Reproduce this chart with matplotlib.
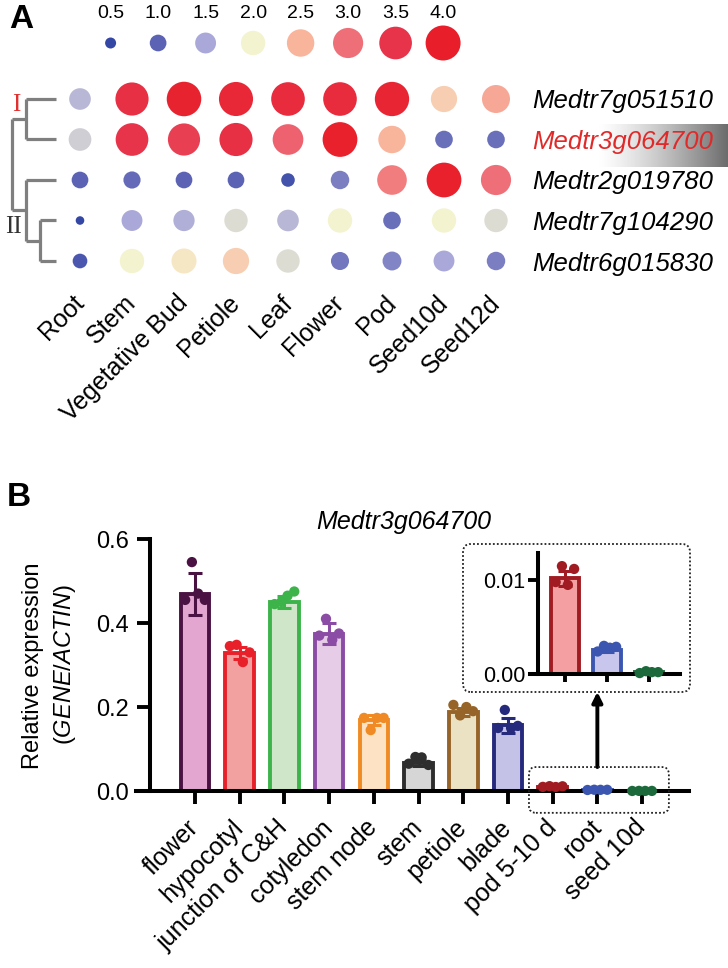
import numpy as np
import matplotlib
matplotlib.use('Agg')
import matplotlib.pyplot as plt
from matplotlib.colors import LinearSegmentedColormap
from matplotlib.patches import FancyBboxPatch
from matplotlib.transforms import IdentityTransform

plt.rcParams['font.family'] = ['Liberation Sans', 'DejaVu Sans']
plt.rcParams['mathtext.fontset'] = 'custom'
plt.rcParams['mathtext.it'] = 'Liberation Sans:italic'
plt.rcParams['mathtext.rm'] = 'Liberation Sans'

# ---------------- Panel A data ----------------
tissues_a = ['Root', 'Stem', 'Vegetative Bud', 'Petiole', 'Leaf', 'Flower', 'Pod', 'Seed10d', 'Seed12d']
genes = ['Medtr7g051510', 'Medtr3g064700', 'Medtr2g019780', 'Medtr7g104290', 'Medtr6g015830']
expr_7g051510 = [1.6, 3.6, 3.9, 3.8, 3.7, 3.7, 3.85, 2.3, 2.6]
expr_3g064700 = [1.75, 3.5, 3.4, 3.6, 3.1, 3.95, 2.5, 1.1, 1.1]
expr_2g019780 = [1.0, 1.05, 1.0, 1.0, 0.7, 1.2, 2.9, 3.95, 3.0]
expr_7g104290 = [0.35, 1.5, 1.55, 1.85, 1.6, 2.0, 1.1, 2.0, 1.85]
expr_6g015830 = [0.8, 2.0, 2.1, 2.3, 1.85, 1.15, 1.25, 1.5, 1.2]
legend_values = [0.5, 1.0, 1.5, 2.0, 2.5, 3.0, 3.5, 4.0]
legend_labels = ['0.5', '1.0', '1.5', '2.0', '2.5', '3.0', '3.5', '4.0']
legend_colors = ['#3447a5', '#5c63b4', '#a9a8d8', '#f5f4cf', '#f9b59c', '#ef6f78', '#e8344b', '#e81f2a']

# ---------------- Panel B data ----------------
tissues_b = ['flower', 'hypocotyl', 'junction of C&H', 'cotyledon', 'stem node', 'stem',
             'petiole', 'blade', 'pod 5-10 d', 'root', 'seed 10d']
means_b = [0.47, 0.329, 0.45, 0.375, 0.168, 0.067, 0.188, 0.157, 0.0102, 0.0026, 0.0002]
sd_b = [0.05, 0.015, 0.015, 0.025, 0.012, 0.008, 0.01, 0.018, 0.0008, 0.0003, 0.0001]
reps_b = [
    [0.455, 0.545, 0.47, 0.455],
    [0.345, 0.348, 0.307, 0.33],
    [0.445, 0.45, 0.465, 0.475],
    [0.37, 0.41, 0.36, 0.375],
    [0.174, 0.145, 0.174, 0.174],
    [0.065, 0.081, 0.08, 0.062],
    [0.205, 0.18, 0.2, 0.19],
    [0.15, 0.193, 0.15, 0.155],
    [0.0098, 0.0115, 0.0095, 0.0112],
    [0.0024, 0.0030, 0.0028, 0.0029],
    [0.0001, 0.0003, 0.0002, 0.0002],
]
edge_b = ['#4a1242', '#e8202a', '#3cb44a', '#8a4ca4', '#f08a24', '#2e2e2e',
          '#966428', '#262a7c', '#a01c22', '#3a56b0', '#1c6a3c']
fill_b = ['#e2a6d0', '#f2a0a0', '#cfe6c9', '#e6cce6', '#fde2c4', '#d6d6d6',
          '#ebe2c4', '#c4c2e6', '#f4a0a2', '#c8c6ec', '#a8d8b0']
inset_idx = [8, 9, 10]

# ---------------- figure helpers ----------------
W, H = 728, 968
fig = plt.figure(figsize=(W / 100, H / 100), dpi=100)


def rect(l, t, r, b):
    return [l / W, 1 - b / H, (r - l) / W, (b - t) / H]


vmin, vmax = 0.5, 4.0
cmap = LinearSegmentedColormap.from_list(
    'expr', [((v - vmin) / (vmax - vmin), c) for v, c in zip(legend_values, legend_colors)])


def dot_size(v):
    # dot area grows linearly with value
    area_px = np.clip(121 + 315.4 * (np.asarray(v) - 0.5), 50, None)
    return area_px * 0.72 ** 2


# gradient behind highlighted gene
gax = fig.add_axes(rect(598, 124, 728, 167))
gax.imshow(np.linspace(0, 1, 256).reshape(1, -1) ** 1.3, aspect='auto',
           cmap=LinearSegmentedColormap.from_list('g', ['#ffffff', '#6c6c6c']))
gax.axis('off')
gax.set_zorder(0)

# ---------------- Panel A dot plot ----------------
axA = fig.add_axes(rect(54, 78.75, 522, 281.25))
axA.set_zorder(1)
axA.patch.set_visible(False)
matrix = [expr_7g051510, expr_3g064700, expr_2g019780, expr_7g104290, expr_6g015830]
cols = np.arange(len(tissues_a))
for r, row in enumerate(matrix):
    axA.scatter(cols, np.full(len(cols), r), s=dot_size(row), c=row, cmap=cmap,
                vmin=vmin, vmax=vmax, edgecolors='none', clip_on=False)
axA.set_xlim(-0.5, 8.5)
axA.set_ylim(4.5, -0.5)
for s in axA.spines.values():
    s.set_visible(False)
axA.set_xticks(cols)
axA.set_xticklabels(tissues_a, rotation=45, ha='right', va='center',
                    rotation_mode='anchor', fontsize=18)
axA.tick_params(axis='x', length=0, pad=13)
axA.yaxis.tick_right()
axA.set_yticks(range(len(genes)))
axA.set_yticklabels(genes, fontsize=18.5, fontstyle='italic')
axA.tick_params(axis='y', length=0, pad=7)
axA.get_yticklabels()[1].set_color('#e02a2a')

# dendrogram (x in column units left of the matrix)
leaf_x, nodeI_x, sub_x, nodeII_x, root_x = -0.46, -1.04, -0.77, -1.04, -1.31
dkw = dict(color='#7f7f7f', lw=2.3, clip_on=False, solid_capstyle='butt')
for y in (0, 1):
    axA.plot([nodeI_x, leaf_x], [y, y], **dkw)
axA.plot([nodeI_x, nodeI_x], [0, 1], **dkw)
for y in (3, 4):
    axA.plot([sub_x, leaf_x], [y, y], **dkw)
axA.plot([sub_x, sub_x], [3, 4], **dkw)
axA.plot([nodeII_x, leaf_x], [2, 2], **dkw)
axA.plot([nodeII_x, sub_x], [3.5, 3.5], **dkw)
axA.plot([nodeII_x, nodeII_x], [2, 3.5], **dkw)
axA.plot([root_x, nodeI_x], [0.5, 0.5], **dkw)
axA.plot([root_x, nodeII_x], [2.75, 2.75], **dkw)
axA.plot([root_x, root_x], [0.5, 2.75], **dkw)
axA.text(-1.23, 0.15, 'I', color='#e03030', fontsize=18, family=['Liberation Serif', 'DejaVu Serif'],
         ha='center', va='center', clip_on=False)
axA.text(-1.28, 3.15, 'II', color='#333333', fontsize=18, family=['Liberation Serif', 'DejaVu Serif'],
         ha='center', va='center', clip_on=False)

# legend
axL = fig.add_axes(rect(63.1, 25, 490.6, 61))
axL.scatter(legend_values, np.zeros(len(legend_values)), s=dot_size(legend_values),
            c=legend_values, cmap=cmap, vmin=vmin, vmax=vmax, edgecolors='none', clip_on=False)
axL.set_xlim(0, 4.5)
axL.set_ylim(-1, 1)
for s in axL.spines.values():
    s.set_visible(False)
axL.xaxis.tick_top()
axL.set_xticks(legend_values)
axL.set_xticklabels(legend_labels, fontsize=14)
axL.tick_params(axis='x', length=0, pad=2)
axL.set_yticks([])
axL.patch.set_visible(False)

fig.text(9 / W, 1 - 20 / H, 'A', fontsize=24, fontweight='bold', va='center')
fig.text(7 / W, 1 - 497 / H, 'B', fontsize=24, fontweight='bold', va='center')

# ---------------- Panel B ----------------
axB = fig.add_axes(rect(136, 539, 689, 791))
x = np.arange(len(tissues_b))
axB.bar(x, means_b, width=0.64, color=fill_b, edgecolor=edge_b, linewidth=2.8, zorder=2)
offs = np.array([-0.22, -0.07, 0.07, 0.22])
for i in x:
    axB.errorbar(i, means_b[i], yerr=sd_b[i], color=edge_b[i], capsize=5, elinewidth=2.2,
                 capthick=2.2, zorder=3)
    axB.scatter(i + offs, reps_b[i], s=55, color=edge_b[i], zorder=4, clip_on=False, edgecolors='none')
axB.set_xlim(-1.32, 11.05)
axB.set_ylim(0, 0.6)
axB.spines['left'].set_position(('data', -1.0))
axB.spines['left'].set_bounds(0, 0.6)
for k in ('top', 'right'):
    axB.spines[k].set_visible(False)
for k in ('left', 'bottom'):
    axB.spines[k].set_linewidth(2.9)
axB.set_yticks([0, 0.2, 0.4, 0.6])
axB.set_yticklabels(['0.0', '0.2', '0.4', '0.6'], fontsize=17)
axB.tick_params(axis='y', length=9.5, width=2.8, pad=6)
axB.set_xticks(x)
axB.set_xticklabels(tissues_b, rotation=45, ha='right', va='center',
                    rotation_mode='anchor', fontsize=18)
axB.tick_params(axis='x', length=9.5, width=2.8, pad=14)
fig.text(404 / W, 1 - 522 / H, 'Medtr3g064700', fontstyle='italic', fontsize=18,
         ha='center', va='center')

fig.text(33 / W, 1 - 666 / H, 'Relative expression', rotation=90, fontsize=17,
         ha='center', va='center')
fig.text(65 / W, 1 - 665 / H, r'($\mathit{GENE/ACTIN}$)', rotation=90, fontsize=17,
         ha='center', va='center')

# inset
axI = fig.add_axes(rect(530, 553, 680, 674))
xi = np.arange(len(inset_idx))
axI.bar(xi, [means_b[i] for i in inset_idx], width=0.66, color=[fill_b[i] for i in inset_idx],
        edgecolor=[edge_b[i] for i in inset_idx], linewidth=2.8, zorder=2)
for j, i in enumerate(inset_idx):
    axI.errorbar(j, means_b[i], yerr=sd_b[i], color=edge_b[i], capsize=5, elinewidth=2.2,
                 capthick=2.2, zorder=3)
    axI.scatter(j + offs, reps_b[i], s=55, color=edge_b[i], zorder=4, clip_on=False, edgecolors='none')
axI.set_xlim(-0.83, 2.74)
axI.set_ylim(0, 0.0129)
axI.spines['left'].set_position(('data', -0.643))
for k in ('top', 'right'):
    axI.spines[k].set_visible(False)
for k in ('left', 'bottom'):
    axI.spines[k].set_linewidth(2.9)
axI.set_yticks([0, 0.01])
axI.set_yticklabels(['0.00', '0.01'], fontsize=15.5)
axI.tick_params(axis='y', length=7, width=2.8, pad=2)
axI.set_xticks(xi)
axI.set_xticklabels([])
axI.tick_params(axis='x', length=6, width=2.8)
axI.patch.set_visible(False)

# dotted boxes and arrow
p0 = axB.transData.transform((7.47, -0.052))
p1 = axB.transData.transform((10.6, 0.057))
fig.add_artist(FancyBboxPatch(p0, p1[0] - p0[0], p1[1] - p0[1],
                              boxstyle='round,pad=0,rounding_size=7', fill=False,
                              ls=(0, (1, 1.2)), lw=1.3, ec='#222222', transform=IdentityTransform()))
fig.add_artist(FancyBboxPatch((463, H - 692), 227, 148,
                              boxstyle='round,pad=0,rounding_size=8', fill=False,
                              ls=(0, (1, 1.2)), lw=1.3, ec='#222222', transform=IdentityTransform()))
axB.annotate('', xy=(9, 0.236), xytext=(9, 0.057), xycoords='data',
             arrowprops=dict(arrowstyle='-|>,head_length=0.6,head_width=0.3', lw=2.8, color='black',
                             shrinkA=0, shrinkB=0), annotation_clip=False)

fig.savefig('out.png', dpi=100)
